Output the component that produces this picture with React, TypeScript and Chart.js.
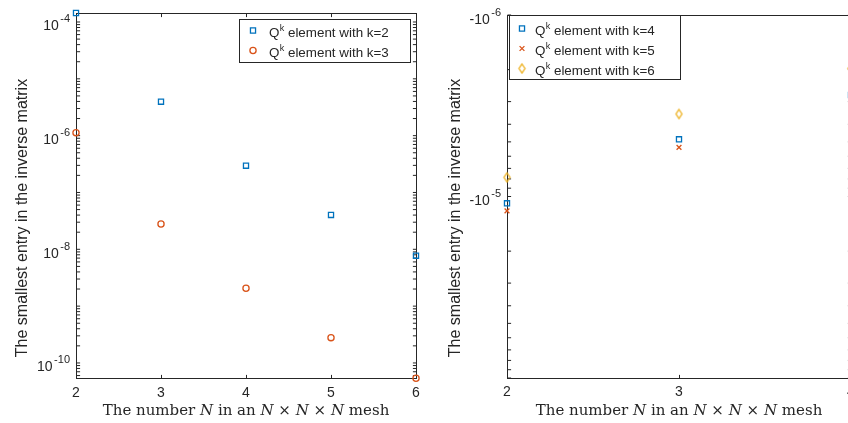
import React, { useEffect, useRef } from 'react';
import { Chart, registerables } from 'chart.js';
import { drawPoint } from 'chart.js/helpers';

Chart.register(...registerables);

// ---------------- data ----------------
const meshSizesLeft = [2, 3, 4, 5, 6];
const qk2Smallest = [1.44e-4, 3.96e-6, 2.96e-7, 4.02e-8, 7.72e-9];
const qk3Smallest = [1.13e-6, 2.79e-8, 2.06e-9, 2.79e-10, 5.37e-11];

const meshSizesRight = [2, 3, 4];
const qk4Smallest = [-1.09e-5, -4.84e-6, -2.76e-6];
const qk5Smallest = [-1.2e-5, -5.36e-6, -3.0e-6];
const qk6Smallest = [-7.84e-6, -3.51e-6, -1.97e-6];

const leftXTickValues = [2, 3, 4, 5, 6];
const rightXTickValues = [2, 3, 4];
const leftYLabelExponents = [-4, -6, -8, -10];
const rightYLabelExponents = [-6, -5];
const leftYDecades = [-11, -10, -9, -8, -7, -6, -5, -4];
const rightYDecades = [-6, -5, -4];
const minorSteps = [1, 2, 3, 4, 5, 6, 7, 8, 9];
const leftYRange = [5.37e-11, 1.44e-4];
const rightYRange = [-1e-4, -1e-6];

const leftLegendLabels = ['Q^k element with k=2', 'Q^k element with k=3'];
const rightLegendLabels = ['Q^k element with k=4', 'Q^k element with k=5', 'Q^k element with k=6'];

const yAxisTitle = 'The smallest entry in the inverse matrix';
const xAxisTitleParts: [string, boolean][] = [
  ['The number ', false], ['N', true], [' in an ', false], ['N', true], [' × ', false],
  ['N', true], [' × ', false], ['N', true], [' mesh', false],
];

// ---------------- style ----------------
const SANS = '"Liberation Sans", Arial, Helvetica, sans-serif';
const SERIF = '"DejaVu Serif", "Liberation Serif", serif';
const AX = '#262626';
const BLUE = '#0072BD';
const ORANGE = '#D95319';
const YELLOW = '#EDB120';
const TICK_LEN = 3.6;

function crisp(v: number) {
  return Math.floor(v) + 0.5;
}

function makeDiamond(color: string) {
  const c = document.createElement('canvas');
  c.width = 11;
  c.height = 13;
  const g = c.getContext('2d') as CanvasRenderingContext2D;
  g.strokeStyle = color;
  g.lineWidth = 1.3;
  g.beginPath();
  g.moveTo(5.5, 2.0);
  g.lineTo(8.5, 6.5);
  g.lineTo(5.5, 11.0);
  g.lineTo(2.5, 6.5);
  g.closePath();
  g.stroke();
  return c;
}

type PanelLayout = {
  yMinorTicks: number[];
  yLabels: { value: number; base: string; exp: string }[];
  xTicks: number[];
  labelRight: number;
  titleBaselineX: number;
  legend: { x: number; y: number; w: number; h: number; markerX: number; textX: number; firstY: number; gap: number };
};

function makePlugin(p: PanelLayout) {
  return {
    id: 'matlabLook',
    beforeDatasetsDraw(chart: any) {
      const { ctx, chartArea: a, scales } = chart;
      const xs = scales.x;
      const ys = scales.y;
      const L = crisp(a.left), R = crisp(a.right), T = crisp(a.top), B = crisp(a.bottom);
      ctx.save();
      ctx.strokeStyle = AX;
      ctx.lineWidth = 1;
      ctx.beginPath();
      for (const t of p.yMinorTicks) {
        const py = ys.getPixelForValue(t);
        if (py < a.top - 0.5 || py > a.bottom + 0.5) continue;
        ctx.moveTo(L, py); ctx.lineTo(L + TICK_LEN, py);
        ctx.moveTo(R, py); ctx.lineTo(R - TICK_LEN, py);
      }
      for (const t of p.xTicks) {
        const px = crisp(xs.getPixelForValue(t));
        ctx.moveTo(px, B); ctx.lineTo(px, B - TICK_LEN);
        ctx.moveTo(px, T); ctx.lineTo(px, T + TICK_LEN);
      }
      ctx.stroke();
      ctx.strokeRect(L, T, R - L, B - T);
      ctx.restore();
    },
    afterDatasetsDraw(chart: any) {
      const { ctx } = chart;
      const lg = p.legend;
      ctx.save();
      ctx.fillStyle = '#ffffff';
      ctx.fillRect(lg.x, lg.y, lg.w, lg.h);
      ctx.strokeStyle = AX;
      ctx.lineWidth = 1;
      ctx.strokeRect(lg.x, lg.y, lg.w, lg.h);
      chart.data.datasets.forEach((ds: any, i: number) => {
        const my = lg.firstY + i * lg.gap;
        ctx.save();
        ctx.strokeStyle = ds.borderColor;
        ctx.fillStyle = 'rgba(0,0,0,0)';
        ctx.lineWidth = ds.pointBorderWidth;
        drawPoint(ctx, { pointStyle: ds.pointStyle, rotation: 0, radius: ds.pointRadius, borderWidth: ds.pointBorderWidth } as any, lg.markerX, my);
        ctx.restore();
        const [pre, post] = String(ds.label).split('^k');
        ctx.fillStyle = AX;
        ctx.textAlign = 'left';
        ctx.textBaseline = 'alphabetic';
        let x = lg.textX;
        const base = my + 6.5;
        ctx.font = `13.4px ${SANS}`;
        ctx.fillText(pre, x, base);
        x += ctx.measureText(pre).width;
        ctx.font = `9px ${SANS}`;
        ctx.fillText('k', x + 0.3, base - 6.3);
        x += ctx.measureText('k').width + 0.3;
        ctx.font = `13.4px ${SANS}`;
        ctx.fillText(post, x, base);
      });
      ctx.restore();
    },
    afterDraw(chart: any) {
      const { ctx, chartArea: a, scales } = chart;
      const ys = scales.y;
      ctx.save();
      ctx.fillStyle = AX;
      ctx.textAlign = 'right';
      ctx.textBaseline = 'alphabetic';
      for (const lab of p.yLabels) {
        const py = ys.getPixelForValue(lab.value);
        ctx.font = `11px ${SANS}`;
        const ew = ctx.measureText(lab.exp).width;
        ctx.fillText(lab.exp, p.labelRight, py + 0.5);
        ctx.font = `14px ${SANS}`;
        ctx.fillText(lab.base, p.labelRight - ew - 1.5, py + 8.5);
      }
      // y title
      ctx.save();
      ctx.translate(p.titleBaselineX, 218);
      ctx.rotate(-Math.PI / 2);
      ctx.textAlign = 'center';
      ctx.font = `16px ${SANS}`;
      ctx.fillText(yAxisTitle, 0, 0);
      ctx.restore();
      // x title
      const fonts = xAxisTitleParts.map(([, it]) => `${it ? 'italic ' : ''}15px ${SERIF}`);
      let total = 0;
      xAxisTitleParts.forEach(([t], i) => { ctx.font = fonts[i]; total += ctx.measureText(t).width; });
      let x = (a.left + a.right) / 2 - total / 2;
      ctx.textAlign = 'left';
      xAxisTitleParts.forEach(([t], i) => {
        ctx.font = fonts[i];
        ctx.fillText(t, x, 415);
        x += ctx.measureText(t).width;
      });
      ctx.restore();
    },
  };
}

function decadeTicks(decades: number[]) {
  const out: number[] = [];
  for (const d of decades) for (const m of minorSteps) out.push(m * Math.pow(10, d));
  return out;
}

function pointDataset(label: string, xs: number[], ys: number[], color: string, style: any, radius: number) {
  return {
    label,
    data: xs.map((x, i) => ({ x, y: ys[i] })),
    showLine: false,
    pointStyle: style,
    pointRadius: radius,
    pointHoverRadius: radius,
    pointBorderWidth: 1.3,
    borderColor: color,
    backgroundColor: 'rgba(0,0,0,0)',
    pointBackgroundColor: 'rgba(0,0,0,0)',
    clip: false as any,
  };
}

function baseOptions(xMin: number, xMax: number, xTicks: number[], xHeight: number, yWidth: number, yScale: any, padding: any) {
  return {
    responsive: false,
    maintainAspectRatio: false,
    animation: false as const,
    devicePixelRatio: 1,
    events: [] as any[],
    layout: { padding },
    plugins: { legend: { display: false }, tooltip: { enabled: false } },
    scales: {
      x: {
        type: 'linear' as const,
        min: xMin,
        max: xMax,
        afterBuildTicks: (s: any) => { s.ticks = xTicks.map((v) => ({ value: v })); },
        afterFit: (s: any) => { s.height = xHeight; s.paddingLeft = 0; s.paddingRight = 0; },
        grid: { display: false, drawTicks: false },
        border: { display: false },
        ticks: { color: AX, font: { family: SANS, size: 14 }, padding: 6, autoSkip: false, maxRotation: 0, callback: (v: any) => String(v) },
      },
      y: {
        ...yScale,
        afterFit: (s: any) => { s.width = yWidth; s.paddingTop = 0; s.paddingBottom = 0; },
        grid: { display: false, drawTicks: false },
        border: { display: false },
        ticks: { display: false },
      },
    },
  };
}

export default function App() {
  const leftRef = useRef<HTMLCanvasElement>(null);
  const rightRef = useRef<HTMLCanvasElement>(null);

  useEffect(() => {
    const leftLayout: PanelLayout = {
      yMinorTicks: decadeTicks(leftYDecades),
      yLabels: leftYLabelExponents.map((e) => ({ value: Math.pow(10, e), base: '10', exp: String(e) })),
      xTicks: leftXTickValues,
      labelRight: 70,
      titleBaselineX: 27,
      legend: { x: 239.5, y: 19.5, w: 171, h: 43, markerX: 253, textX: 269, firstY: 30.5, gap: 20 },
    };
    const left = new Chart(leftRef.current as HTMLCanvasElement, {
      type: 'scatter',
      data: {
        datasets: [
          pointDataset(leftLegendLabels[0], meshSizesLeft, qk2Smallest, BLUE, 'rect', 3.6),
          pointDataset(leftLegendLabels[1], meshSizesLeft, qk3Smallest, ORANGE, 'circle', 3.1),
        ] as any,
      },
      options: baseOptions(2, 6, leftXTickValues, 423 - 378.3, 76,
        { type: 'logarithmic', min: leftYRange[0], max: leftYRange[1] },
        { top: 13, right: 8, left: 0, bottom: 0 }) as any,
      plugins: [makePlugin(leftLayout)],
    });

    const rightLayout: PanelLayout = {
      yMinorTicks: decadeTicks(rightYDecades),
      yLabels: rightYLabelExponents.map((e) => ({ value: Math.pow(10, e), base: '-10', exp: String(e) })),
      xTicks: rightXTickValues,
      labelRight: 77,
      titleBaselineX: 36,
      legend: { x: 85.5, y: 15.5, w: 171, h: 64, markerX: 98, textX: 111, firstY: 28.5, gap: 20 },
    };
    // negative values are shown on a reversed logarithmic axis of their magnitude
    const mag = (arr: number[]) => arr.map((v) => -v);
    const right = new Chart(rightRef.current as HTMLCanvasElement, {
      type: 'scatter',
      data: {
        datasets: [
          pointDataset(rightLegendLabels[0], meshSizesRight, mag(qk4Smallest), BLUE, 'rect', 3.6),
          pointDataset(rightLegendLabels[1], meshSizesRight, mag(qk5Smallest), ORANGE, 'crossRot', 3.4),
          pointDataset(rightLegendLabels[2], meshSizesRight, mag(qk6Smallest), YELLOW, makeDiamond(YELLOW), 4.4),
        ] as any,
      },
      options: baseOptions(2, 4, rightXTickValues, 423 - 378, 83,
        { type: 'logarithmic', min: -rightYRange[1], max: -rightYRange[0], reverse: true },
        { top: 15, right: 13, left: 0, bottom: 0 }) as any,
      plugins: [makePlugin(rightLayout)],
    });

    return () => {
      left.destroy();
      right.destroy();
    };
  }, []);

  return (
    <div style={{ position: 'fixed', left: 0, top: 0, width: 848, height: 423, overflow: 'hidden', background: '#ffffff' }}>
      <canvas ref={leftRef} width={424} height={423} style={{ position: 'absolute', left: 0, top: 0, width: 424, height: 423 }} />
      <canvas ref={rightRef} width={440} height={423} style={{ position: 'absolute', left: 424, top: 0, width: 440, height: 423 }} />
    </div>
  );
}
